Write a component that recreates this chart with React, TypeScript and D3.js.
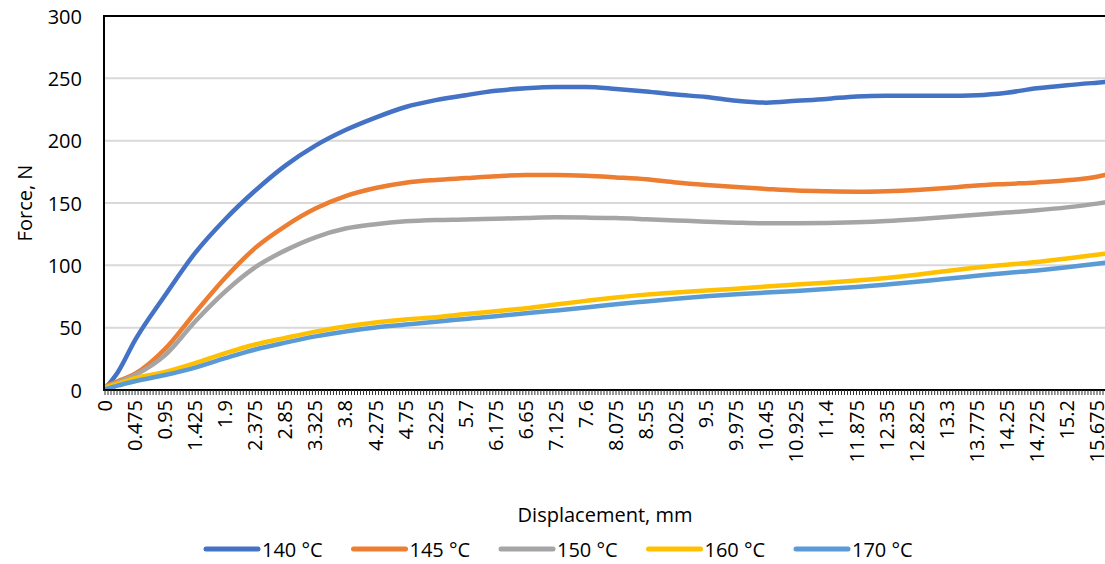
import React from 'react'
import * as d3 from 'd3'

const displacement = [0, 0.2, 0.475, 0.95, 1.425, 1.9, 2.375, 2.85, 3.325, 3.8, 4.275, 4.75, 5.225, 5.7, 6.175, 6.65, 7.125, 7.6, 8.075, 8.55, 9.025, 9.5, 9.975, 10.45, 10.925, 11.4, 11.875, 12.35, 12.825, 13.3, 13.775, 14.25, 14.725, 15.2, 15.675, 15.8]

const force140 = [1, 14, 40, 76, 110, 137, 160, 180, 196, 208.5, 218.5, 227, 232.5, 236.5, 240, 242, 243, 243, 241.5, 239.5, 237, 235, 232, 230.5, 232, 233.5, 235.5, 236, 236, 236, 236.5, 238.5, 242, 244.5, 246.5, 247]
const force145 = [3, 7, 13, 33, 62, 90, 114, 131.5, 145.5, 155.5, 162, 166.3, 168.5, 170, 171.5, 172.4, 172.4, 171.8, 170.5, 169, 166.5, 164.5, 162.8, 161.3, 160, 159.4, 159.1, 159.5, 160.5, 162, 164, 165.3, 166.5, 168.2, 171, 172.5]
const force150 = [2, 6, 12, 28, 55, 79, 98.5, 112, 122.5, 129.5, 133, 135.3, 136.4, 136.8, 137.4, 138, 138.5, 138.3, 137.9, 137, 136, 135, 134.2, 133.7, 133.7, 133.9, 134.5, 135.5, 137, 138.8, 140.5, 142.3, 144.2, 146.5, 149.5, 150.5]
const force160 = [2, 5, 9.5, 14.5, 21.5, 29.5, 36.5, 41.8, 46.8, 51, 54.2, 56.6, 58.4, 61, 63.2, 65.6, 68.6, 71.5, 74.2, 76.5, 78.2, 79.8, 81.3, 83, 84.6, 86.1, 87.8, 89.9, 92.5, 95.5, 98.2, 100.5, 102.7, 105.5, 108.5, 109.3]
const force170 = [0.5, 3.5, 7, 12, 18, 25.5, 32.5, 38, 43, 47, 50.2, 52.5, 54.8, 57, 59.2, 61.5, 63.8, 66.2, 68.8, 71, 73.2, 75.2, 76.8, 78.2, 79.5, 81, 82.6, 84.6, 86.8, 89.3, 91.6, 93.9, 95.9, 98.4, 101.3, 102]

const seriesNames = ['140 °C', '145 °C', '150 °C', '160 °C', '170 °C']
const seriesColors = ['#4472C4', '#ED7D31', '#A5A5A5', '#FFC000', '#5B9BD5']

const xTickLabels = ['0', '0.475', '0.95', '1.425', '1.9', '2.375', '2.85', '3.325', '3.8', '4.275', '4.75', '5.225', '5.7', '6.175', '6.65', '7.125', '7.6', '8.075', '8.55', '9.025', '9.5', '9.975', '10.45', '10.925', '11.4', '11.875', '12.35', '12.825', '13.3', '13.775', '14.25', '14.725', '15.2', '15.675']
const yTicks = [0, 50, 100, 150, 200, 250, 300]

const categoryStep = 0.0475

export default function App() {
  const width = 1105,
    height = 564,
    left = 104,
    right = 1105,
    top = 16,
    bottom = 390

  const font = '"Open Sans", "Noto Sans", sans-serif'

  const xScale = d3.scaleLinear()
    .domain([0, 15.675])
    .range([105, 1097])

  const yScale = d3.scaleLinear()
    .domain([0, 300])
    .range([bottom, top])

  const line = d3.line<number>()
    .x((d, i) => xScale(displacement[i]))
    .y(d => yScale(d))
    .curve(d3.curveMonotoneX)

  const allSeries = [force140, force145, force150, force160, force170]

  const minorTicks = d3.range(0, 15.8, categoryStep)

  return (
    <div style={{position: 'absolute', left: 0, top: 0}}>
      <svg width={width} height={height} style={{display: 'block', background: '#fff'}}>
        <defs>
          <clipPath id="plotclip">
            <rect x={left} y={top - 5} width={right - left} height={bottom - top + 5}/>
          </clipPath>
        </defs>

        {/* gridlines */}
        {yTicks.filter(t => t > 0 && t < 300).map(t =>
          <line key={'g' + t} x1={left} x2={right} y1={yScale(t)} y2={yScale(t)} stroke={'#D9D9D9'} strokeWidth={2}/>
        )}

        {/* series */}
        <g clipPath="url(#plotclip)">
          {allSeries.map((s, idx) =>
            <path key={idx} d={line(s) || ''} fill={'none'} stroke={seriesColors[idx]} strokeWidth={4.5} strokeLinejoin={'round'} strokeLinecap={'round'}/>
          )}
        </g>

        {/* axes */}
        <line x1={left} x2={right} y1={top} y2={top} stroke={'#000'} strokeWidth={2}/>
        <line x1={left} x2={left} y1={top - 1} y2={bottom + 1} stroke={'#000'} strokeWidth={2}/>
        <line x1={left} x2={right} y1={bottom} y2={bottom} stroke={'#000'} strokeWidth={2}/>
        {minorTicks.map((t, i) =>
          <line key={'t' + i} x1={xScale(t)} x2={xScale(t)} y1={bottom} y2={bottom + 5} stroke={'#333'} strokeWidth={1}/>
        )}

        {yTicks.map(t =>
          <text key={'y' + t} x={82} y={yScale(t)} textAnchor={'end'} dominantBaseline={'central'} fontFamily={font} fontSize={20} fill={'#000'}>{t}</text>
        )}

        {xTickLabels.map((lbl, i) =>
          <text key={'x' + i} transform={`translate(${xScale(+lbl) + 7},${bottom + 10}) rotate(-90)`} textAnchor={'end'} fontFamily={font} fontSize={20} fill={'#000'}>{lbl}</text>
        )}

        <text x={605} y={522} textAnchor={'middle'} fontFamily={font} fontSize={20} fill={'#000'}>Displacement, mm</text>
        <text transform={`translate(32,203) rotate(-90)`} textAnchor={'middle'} fontFamily={font} fontSize={20} fill={'#000'}>Force, N</text>

        {/* legend */}
        {seriesNames.map((name, idx) => {
          const x0 = 206 + idx * 147.5
          return <g key={'l' + idx}>
            <line x1={x0} x2={x0 + 52} y1={549} y2={549} stroke={seriesColors[idx]} strokeWidth={5} strokeLinecap={'round'}/>
            <text x={x0 + 56} y={549} dominantBaseline={'central'} fontFamily={font} fontSize={20} fill={'#000'}>{name}</text>
          </g>
        })}
      </svg>
    </div>
  )
}
